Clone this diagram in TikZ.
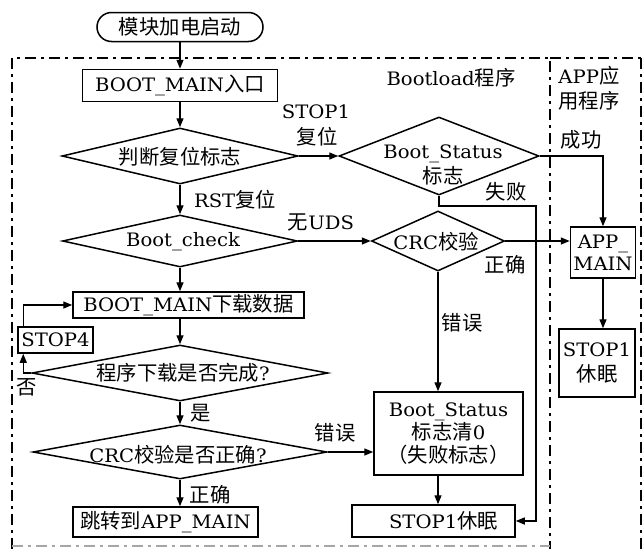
\documentclass[tikz,border=0pt]{standalone}
\usepackage{fontspec}
\setmainfont{DejaVu Serif}[FakeStretch=1.06]
\newfontfamily\cjk{Noto Sans CJK SC}[Scale=1.1]
\usetikzlibrary{shapes.geometric,shapes.misc,arrows.meta,calc}
\begin{document}
\begin{tikzpicture}[x=1pt,y=-1pt,
  every node/.style={font=\fontsize{18.5}{25}\selectfont},
  box/.style={draw, line width=1.5pt, inner sep=0pt, align=center},
  dia/.style={draw, diamond, line width=1.5pt, inner sep=0pt},
  txt/.style={inner sep=0pt, align=center},
  arr/.style={-{Triangle[length=9pt,width=7pt]}, line width=1.4pt},
  frame/.style={line width=2.2pt, dash pattern=on 11pt off 5pt on 3pt off 5pt}]
\useasboundingbox (0,0) rectangle (643,549);
% frames
\draw[frame] (12,549) -- (12,58) -- (550,58) -- (550,549);
\draw[frame] (550,58) -- (643,58);
\draw[frame] (641,58) -- (641,549);
\draw[frame, gray!70, line width=1.4pt] (12,546) -- (550,546);
% nodes
\node[box, rounded rectangle, minimum width=166pt, minimum height=29pt] (start) at (180,27) {\cjk 模块加电启动};
\node[box, minimum width=195pt, minimum height=32pt] (entry) at (180,85.5) {BOOT\_MAIN{\cjk 入口}};
\node[dia, minimum width=236pt, minimum height=56pt] (d1) at (180,156) {};
\node[txt] at (180,157) {\cjk 判断复位标志};
\node[dia, minimum width=200pt, minimum height=78pt] (bs) at (439,156) {};
\node[txt] at (443,165) {Boot\_Status\\{\cjk 标志}};
\node[dia, minimum width=235pt, minimum height=52pt] (d2) at (180,241) {};
\node[txt] at (183,242) {Boot\_check};
\node[dia, minimum width=133pt, minimum height=60pt] (crc) at (438,241) {};
\node[txt] at (436,242) {CRC{\cjk 校验}};
\node[box, minimum width=65pt, minimum height=51pt, font=\fontsize{18.5}{22}\selectfont] (app) at (603,252.5) {APP\_\\MAIN};
\node[box, minimum width=76pt, minimum height=68pt] (sleepR) at (597,363) {STOP1\\{\cjk 休眠}};
\node[box, minimum width=231pt, minimum height=26pt] (dl) at (188.5,305) {BOOT\_MAIN{\cjk 下载数据}};
\node[box, minimum width=75pt, minimum height=26pt] (stop4) at (55.5,340) {STOP4};
\node[dia, minimum width=296pt, minimum height=56pt] (d3) at (180,373) {};
\node[txt] at (183,373) {{\cjk 程序下载是否完成}?};
\node[dia, minimum width=294pt, minimum height=54pt] (d4) at (180,452) {};
\node[txt] at (178,455) {CRC{\cjk 校验是否正确}?};
\node[box, minimum width=185pt, minimum height=30pt] (jump) at (165.5,522) {{\cjk 跳转到}APP\_MAIN};
\node[box, minimum width=149pt, minimum height=83pt, font=\fontsize{18.5}{23}\selectfont] (clr) at (448.5,433.5) {Boot\_Status\\{\cjk 标志清}0\\{\cjk （失败标志）}};
\node[box, minimum width=163pt, minimum height=32pt] (sleepB) at (433.5,521) {\hspace*{20pt}STOP1{\cjk 休眠}};
% labels
\node[txt] at (316,112) {STOP1};
\node[txt] at (317,137) {\cjk 复位};
\node[txt] at (451,78) {Bootload{\cjk 程序}};
\node[txt, align=left] at (589,88) {APP{\cjk 应}\\{\cjk 用程序}};
\node[txt] at (581,140) {\cjk 成功};
\node[txt] at (506,192) {\cjk 失败};
\node[txt] at (235,200) {RST{\cjk 复位}};
\node[txt] at (321,222) {{\cjk 无}UDS};
\node[txt] at (505,265) {\cjk 正确};
\node[txt] at (462,323) {\cjk 错误};
\node[txt] at (27,387) {\cjk 否};
\node[txt] at (201,413) {\cjk 是};
\node[txt] at (335,433) {\cjk 错误};
\node[txt] at (210,495) {\cjk 正确};
% connectors
\coordinate (fail) at (536,206);
\draw[arr] (start.south) -- (entry.north);
\draw[arr] (entry.south) -- (d1.north);
\draw[arr] (d1.east) -- (bs.west);
\draw[arr] (d1.south) -- (d2.north);
\draw[arr] (bs.east) -| (app.north);
\draw[arr] (bs.south) |- (fail) |- (sleepB.east);
\draw[arr] (d2.east) -- (crc.west);
\draw[arr] (crc.east) -- (crc.east -| app.west);
\draw[arr] (crc.south) -- (crc.south |- clr.north);
\draw[arr] (app.south) -- (app.south |- sleepR.north);
\draw[arr] (d2.south) -- (d2.south |- dl.north);
\draw[arr] (d2.south |- dl.south) -- (d3.north);
\draw[arr] (d3.west) -| ([xshift=6pt]stop4.south west);
\draw[arr] ([xshift=6pt]stop4.north west) |- (dl.west);
\draw[arr] (d3.south) -- (d4.north);
\draw[arr] (d4.east) -- (d4.east -| clr.west);
\draw[arr] (d4.south) -- (d4.south |- jump.north);
\draw[arr] (crc.south |- clr.south) -- (crc.south |- sleepB.north);
\end{tikzpicture}
\end{document}
